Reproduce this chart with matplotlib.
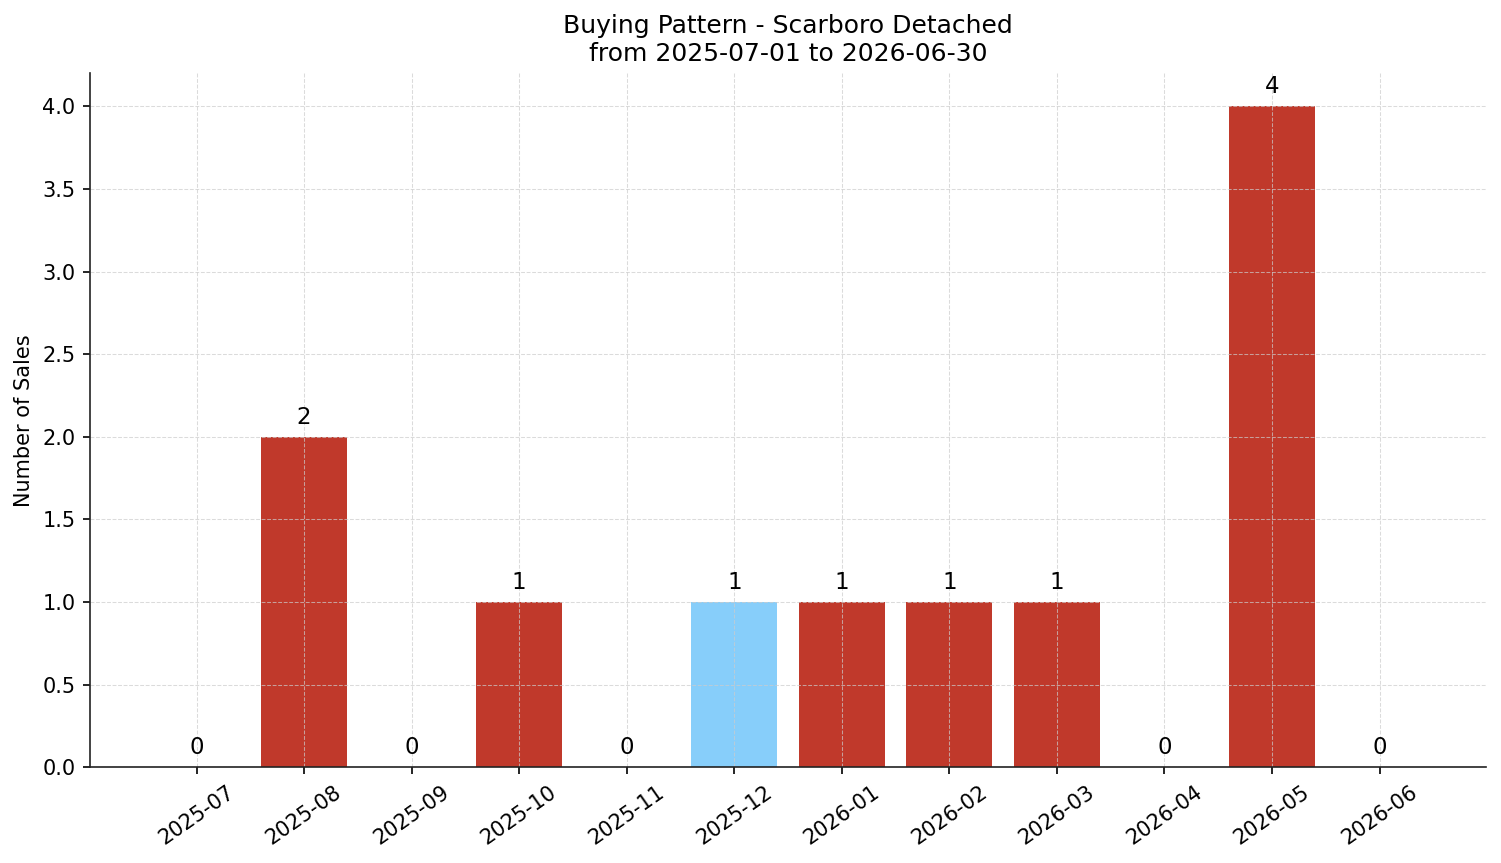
import matplotlib
matplotlib.use("Agg")
import matplotlib.pyplot as plt

months = ["2025-07", "2025-08", "2025-09", "2025-10", "2025-11", "2025-12",
          "2026-01", "2026-02", "2026-03", "2026-04", "2026-05", "2026-06"]
sales = [0, 2, 0, 1, 0, 1, 1, 1, 1, 0, 4, 0]
highlight_month = "2025-12"

red = "#c0392b"
blue = "#87cefa"
colors = [blue if m == highlight_month else red for m in months]

fig, ax = plt.subplots(figsize=(15.01, 8.63), dpi=100)
x = list(range(len(months)))
bars = ax.bar(x, sales, color=colors, width=0.8)
for xi, v in zip(x, sales):
    ax.text(xi, v + 0.05, str(v), ha="center", va="bottom", fontsize=16.5)

ax.set_xticks(x)
ax.set_xticklabels(months, rotation=35, fontsize=15)
ax.tick_params(axis="y", labelsize=15)
ax.tick_params(axis="both", length=5.25, width=1.2, pad=5.25)
ax.set_ylabel("Number of Sales", fontsize=15, labelpad=6)
ax.set_title("Buying Pattern - Scarboro Detached\nfrom 2025-07-01 to 2026-06-30", fontsize=18, pad=9)
ax.grid(True, linestyle="--", color="#cccccc", alpha=0.7, linewidth=0.75)
ax.spines["top"].set_visible(False)
ax.spines["right"].set_visible(False)
for s in ("left", "bottom"):
    ax.spines[s].set_color("#222222")
    ax.spines[s].set_linewidth(1.2)
ax.set_ylim(0, 4.2)

fig.subplots_adjust(left=0.06, right=0.99, top=0.915, bottom=0.111)
fig.savefig("out.png", dpi=100)
